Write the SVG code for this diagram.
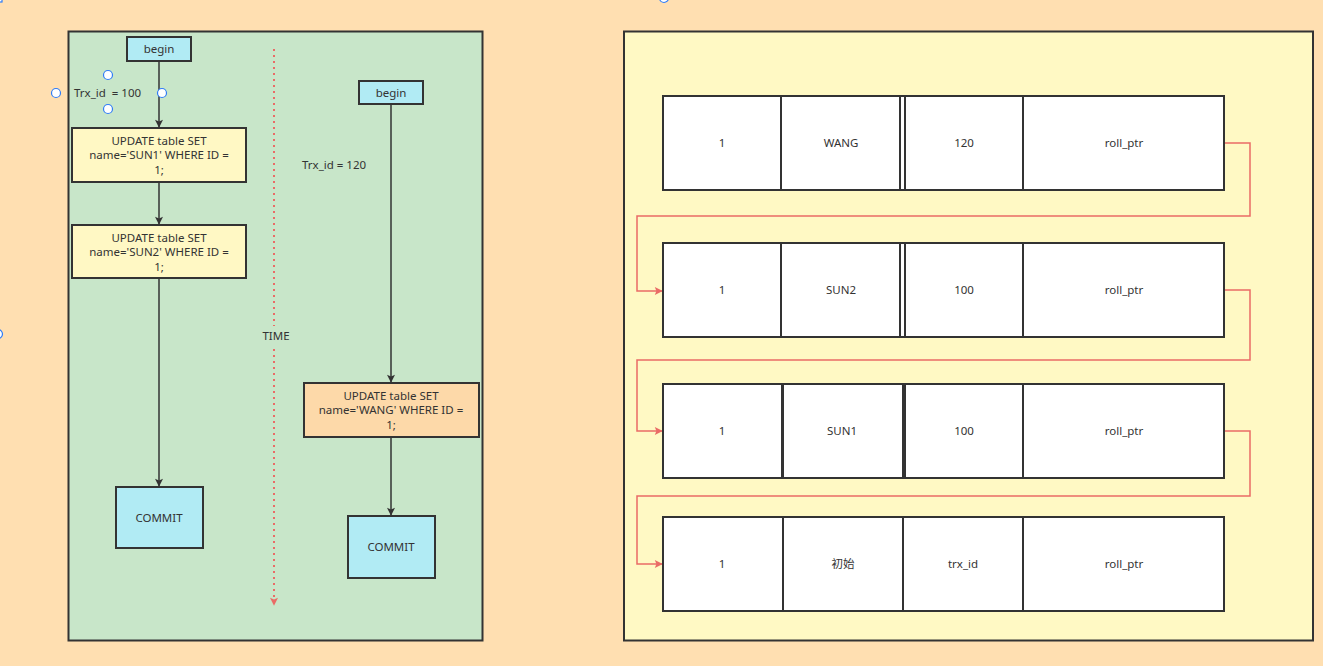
<svg xmlns="http://www.w3.org/2000/svg" width="1323" height="666" viewBox="0 0 1323 666">
<defs>
<style>
text{font-family:"Noto Sans","Liberation Sans","Noto Sans CJK SC",sans-serif;font-size:11.5px;fill:#333;text-anchor:middle;dominant-baseline:central}
.lt{text-anchor:start}
.n{stroke:#333;stroke-width:2}
.blue{fill:#b1ebf4}
.yel{fill:#fff8c4}
.org{fill:#fdd9a9}
.cell{fill:#fff;stroke:#333;stroke-width:2}
.con{fill:none;stroke:#333;stroke-width:1.5}
.red{fill:none;stroke:#ea6b66;stroke-width:1.5}
.h{fill:#fff;stroke:#2f7cf6;stroke-width:1.2}
</style>
<marker id="ab" viewBox="0 0 10 10" refX="9" refY="5" markerWidth="10" markerHeight="8" markerUnits="userSpaceOnUse" orient="auto"><path d="M0,0 L10,5 L0,10 L2,5 Z" fill="#333"/></marker>
<marker id="ar" viewBox="0 0 10 10" refX="9" refY="5" markerWidth="11" markerHeight="8" markerUnits="userSpaceOnUse" orient="auto"><path d="M0,0 L10,5 L0,10 L2,5 Z" fill="#ea6b66"/></marker>
</defs>
<rect x="0" y="0" width="1323" height="666" fill="#ffdfb1"/>
<g id="panel-left"><rect x="68.5" y="31.5" width="414" height="609" fill="#c8e6c9" class="n"/></g>
<g id="panel-right"><rect x="624" y="31.5" width="689" height="609" fill="#fff9c4" class="n"/></g>

<g id="connectors">
<line x1="159" y1="61" x2="159" y2="127" class="con" marker-end="url(#ab)"/>
<line x1="159" y1="182" x2="159" y2="224" class="con" marker-end="url(#ab)"/>
<line x1="159" y1="278" x2="159" y2="486" class="con" marker-end="url(#ab)"/>
<line x1="391" y1="104" x2="391" y2="382" class="con" marker-end="url(#ab)"/>
<line x1="391" y1="437" x2="391" y2="515" class="con" marker-end="url(#ab)"/>
<line x1="274" y1="49" x2="274" y2="605" fill="none" stroke="#ea6b66" stroke-width="2" stroke-dasharray="2,4" marker-end="url(#ar)"/>
<polyline points="1224,143 1250,143 1250,216 637,216 637,291 662,291" class="red" marker-end="url(#ar)"/>
<polyline points="1224,290 1250,290 1250,360 637,360 637,431 662,431" class="red" marker-end="url(#ar)"/>
<polyline points="1224,431 1250,431 1250,496 637,496 637,564 662,564" class="red" marker-end="url(#ar)"/>
</g>

<g id="time-label"><rect x="258" y="326" width="36" height="20" fill="#c8e6c9"/><text x="276" y="335">TIME</text></g>

<g id="begin1"><rect x="127" y="37" width="64" height="24" class="n blue"/><text x="159" y="48">begin</text></g>
<g id="trx100"><text x="74" y="92" class="lt" xml:space="preserve">Trx_id  = 100</text>
<circle cx="108" cy="75" r="4.5" class="h"/><circle cx="56" cy="93" r="4.5" class="h"/><circle cx="162" cy="93" r="4.5" class="h"/><circle cx="108" cy="109" r="4.5" class="h"/></g>
<g id="update1"><rect x="72" y="128" width="174" height="54" class="n yel"/><text x="159" y="140">UPDATE table SET</text><text x="159" y="154.5">name='SUN1' WHERE ID =</text><text x="159" y="169">1;</text></g>
<g id="update2"><rect x="72" y="225" width="174" height="53" class="n yel"/><text x="159" y="237">UPDATE table SET</text><text x="159" y="251.5">name='SUN2' WHERE ID =</text><text x="159" y="266">1;</text></g>
<g id="commit1"><rect x="116" y="487" width="87" height="61" class="n blue"/><text x="159" y="517">COMMIT</text></g>

<g id="begin2"><rect x="359" y="81" width="64" height="23" class="n blue"/><text x="391" y="92">begin</text></g>
<g id="trx120"><text x="302" y="164" class="lt">Trx_id = 120</text></g>
<g id="update3"><rect x="304" y="383" width="175" height="54" class="n org"/><text x="391" y="395">UPDATE table SET</text><text x="391" y="409.5">name='WANG' WHERE ID =</text><text x="391" y="424">1;</text></g>
<g id="commit2"><rect x="348" y="516" width="87" height="62" class="n blue"/><text x="391" y="546">COMMIT</text></g>

<g id="row1">
<rect x="663" y="96" width="118" height="94" class="cell"/><text x="722" y="142">1</text>
<rect x="781" y="96" width="119" height="94" class="cell"/><text x="841" y="142">WANG</text>
<rect x="900" y="96" width="5" height="94" class="cell"/>
<rect x="905" y="96" width="118" height="94" class="cell"/><text x="964" y="142">120</text>
<rect x="1023" y="96" width="201" height="94" class="cell"/><text x="1124" y="142">roll_ptr</text>
</g>
<g id="row2">
<rect x="663" y="243" width="118" height="94" class="cell"/><text x="722" y="289">1</text>
<rect x="781" y="243" width="119" height="94" class="cell"/><text x="841" y="289">SUN2</text>
<rect x="900" y="243" width="5" height="94" class="cell"/>
<rect x="905" y="243" width="118" height="94" class="cell"/><text x="964" y="289">100</text>
<rect x="1023" y="243" width="201" height="94" class="cell"/><text x="1124" y="289">roll_ptr</text>
</g>
<g id="row3">
<rect x="663" y="384" width="119" height="94" class="cell"/><text x="722" y="430">1</text>
<rect x="783" y="384" width="120" height="94" class="cell"/><text x="842" y="430">SUN1</text>
<rect x="905" y="384" width="118" height="94" class="cell"/><text x="964" y="430">100</text>
<rect x="1023" y="384" width="201" height="94" class="cell"/><text x="1124" y="430">roll_ptr</text>
</g>
<g id="row4">
<rect x="663" y="517" width="120" height="94" class="cell"/><text x="722" y="563">1</text>
<rect x="783" y="517" width="120" height="94" class="cell"/><text x="843" y="563">初始</text>
<rect x="903" y="517" width="120" height="94" class="cell"/><text x="963" y="563">trx_id</text>
<rect x="1023" y="517" width="201" height="94" class="cell"/><text x="1124" y="563">roll_ptr</text>
</g>
<g id="handles">
<rect x="-1" y="-1" width="3" height="3" class="h"/>
<circle cx="664" cy="-2" r="4.5" class="h"/>
<circle cx="-2" cy="334" r="4.5" class="h"/>
</g>
</svg>
